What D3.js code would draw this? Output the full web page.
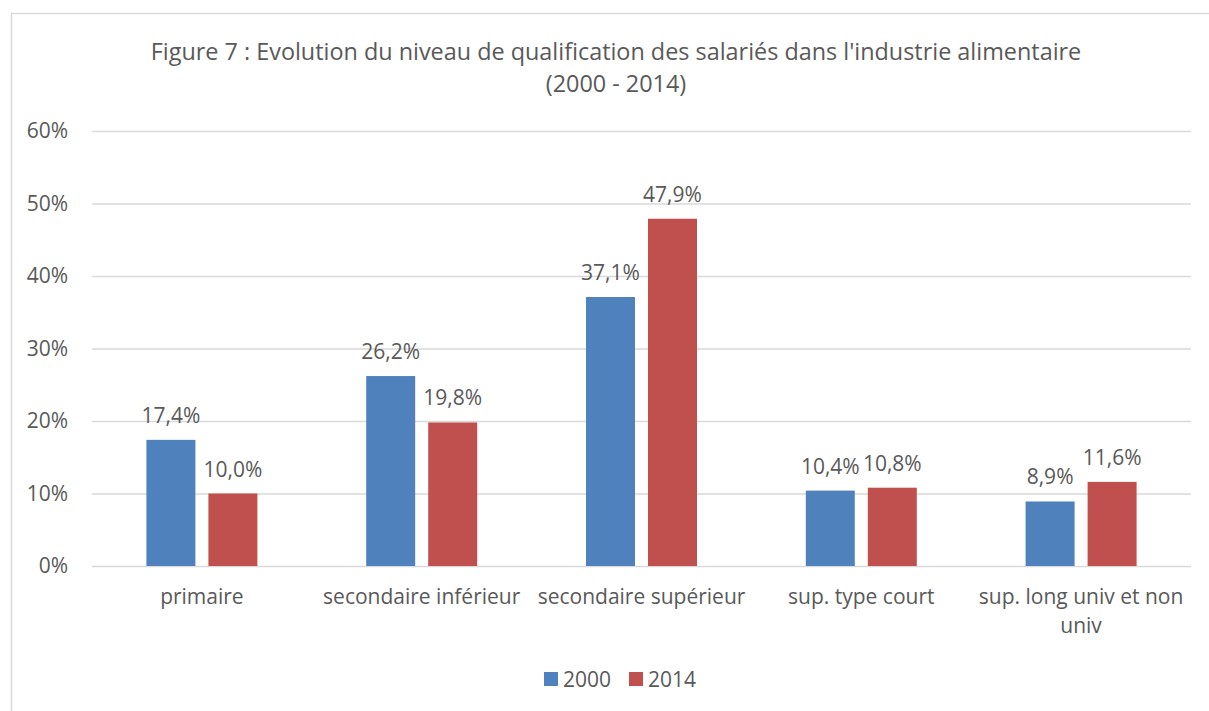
<!DOCTYPE html>
<html>
<head>
<meta charset="utf-8">
<script src="https://cdn.jsdelivr.net/npm/d3@7"></script>
<style>
  body { margin: 0; background: #fff; }
  text { font-family: "Open Sans", "Noto Sans", sans-serif; fill: #595959; }
</style>
</head>
<body>
<div id="chart"></div>
<script>
// Data
var categories = ["primaire", "secondaire inférieur", "secondaire supérieur", "sup. type court", "sup. long univ et non univ"];
var series = ["2000", "2014"];
var values2000 = [17.4, 26.2, 37.1, 10.4, 8.9];
var values2014 = [10.0, 19.8, 47.9, 10.8, 11.6];
var yTicks = [0, 10, 20, 30, 40, 50, 60];
var colors = ["#4F81BD", "#C0504D"];

var svgWidth = 1209;
var svgHeight = 711;

var chartMargin = { top: 131, right: 18, bottom: 145, left: 92 };
var chartWidth = svgWidth - chartMargin.left - chartMargin.right;
var chartHeight = svgHeight - chartMargin.top - chartMargin.bottom;

var svg = d3.select("#chart")
    .append("svg")
    .attr("width", svgWidth)
    .attr("height", svgHeight);

// outer chart border
svg.append("rect")
    .attr("x", 11.5)
    .attr("y", 13.5)
    .attr("width", svgWidth)
    .attr("height", svgHeight)
    .attr("fill", "none")
    .attr("stroke", "#D9D9D9")
    .attr("stroke-width", 1.5);

// title
var title = svg.append("text")
    .attr("text-anchor", "middle")
    .style("font-size", "23.4px");
title.append("tspan").attr("x", 616).attr("y", 60)
    .text("Figure 7 : Evolution du niveau de qualification des salariés dans l'industrie alimentaire");
title.append("tspan").attr("x", 616).attr("y", 92)
    .text("(2000 - 2014)");

var chartGroup = svg.append("g")
    .attr("transform", `translate(${chartMargin.left}, ${chartMargin.top})`);

var xBandScale = d3.scaleBand()
    .domain(categories)
    .range([0, chartWidth]);

var groupWidth = 111;
var xInner = d3.scaleBand()
    .domain(series)
    .range([0, groupWidth])
    .paddingInner(0.21);

var yLinearScale = d3.scaleLinear()
    .domain([0, 60])
    .range([chartHeight, 0]);

// gridlines + y axis labels
var leftAxis = d3.axisLeft(yLinearScale)
    .tickValues(yTicks)
    .tickSize(-chartWidth)
    .tickPadding(24)
    .tickFormat(d => d + "%");

var yAxis = chartGroup.append("g").call(leftAxis);
yAxis.select(".domain").remove();
yAxis.selectAll("line").attr("stroke", "#D9D9D9").attr("stroke-width", 1.5);
yAxis.selectAll("text").style("font-size", "21px").attr("fill", "#595959");

// bars
var tableData = categories.map(function (c, i) {
    return { cat: c, vals: [values2000[i], values2014[i]] };
});

var groups = chartGroup.selectAll(".cat")
    .data(tableData)
    .enter()
    .append("g")
    .attr("class", "cat")
    .attr("transform", d => `translate(${xBandScale(d.cat) + (xBandScale.bandwidth() - groupWidth) / 2}, 0)`);

groups.selectAll("rect")
    .data(d => d.vals.map((v, j) => ({ s: series[j], v: v, j: j })))
    .enter()
    .append("rect")
    .attr("x", d => xInner(d.s))
    .attr("y", d => yLinearScale(d.v))
    .attr("width", xInner.bandwidth())
    .attr("height", d => chartHeight - yLinearScale(d.v))
    .attr("fill", d => colors[d.j]);

groups.selectAll(".lbl")
    .data(d => d.vals.map((v, j) => ({ s: series[j], v: v })))
    .enter()
    .append("text")
    .attr("class", "lbl")
    .attr("text-anchor", "middle")
    .attr("x", d => xInner(d.s) + xInner.bandwidth() / 2)
    .attr("y", d => yLinearScale(d.v) - 17)
    .style("font-size", "21px")
    .text(d => d.v.toFixed(1).replace(".", ",") + "%");

// x axis labels (wrapped like the original)
var xLabelLines = [["primaire"], ["secondaire inférieur"], ["secondaire supérieur"], ["sup. type court"], ["sup. long univ et non", "univ"]];
categories.forEach(function (c, i) {
    var t = chartGroup.append("text")
        .attr("text-anchor", "middle")
        .style("font-size", "21px");
    xLabelLines[i].forEach(function (line, k) {
        t.append("tspan")
            .attr("x", xBandScale(c) + xBandScale.bandwidth() / 2)
            .attr("y", chartHeight + 38 + k * 29)
            .text(line);
    });
});

// legend
var legend = svg.append("g").attr("transform", "translate(544, 672)");
var legendX = [0, 85];
series.forEach(function (s, i) {
    legend.append("rect")
        .attr("x", legendX[i])
        .attr("y", 0)
        .attr("width", 14)
        .attr("height", 14)
        .attr("fill", colors[i]);
    legend.append("text")
        .attr("x", legendX[i] + 19)
        .attr("y", 14.5)
        .style("font-size", "21px")
        .text(s);
});
</script>
</body>
</html>
